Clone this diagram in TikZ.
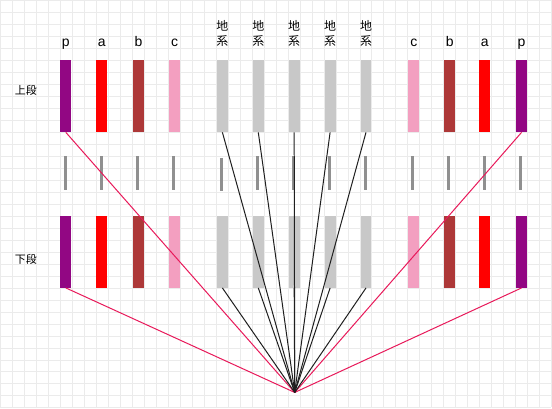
\documentclass[tikz,border=0pt]{standalone}
\usepackage{fontspec}
\setmainfont{Liberation Sans}
\newfontfamily\jp{Noto Sans CJK JP}
\definecolor{gridc}{HTML}{EBEBEB}
\definecolor{cP}{HTML}{920783}
\definecolor{cR}{HTML}{FF0000}
\definecolor{cB}{HTML}{AD3838}
\definecolor{cK}{HTML}{F39FC0}
\definecolor{cG}{HTML}{C8C8C8}
\definecolor{tickc}{HTML}{909090}
\definecolor{redl}{HTML}{E8195A}
\begin{document}
\begin{tikzpicture}[x=1pt,y=-1pt,
  bar/.style={rectangle, inner sep=0pt, minimum width=11pt, minimum height=72pt, draw=none},
  tickbar/.style={rectangle, inner sep=0pt, minimum width=3pt, minimum height=34pt, fill=tickc, draw=none},
  lbl/.style={inner sep=0pt, anchor=base, font=\fontsize{14}{16}\selectfont},
  jlbl/.style={inner sep=0pt, align=center, font=\jp\fontsize{12}{15}\selectfont},
  side/.style={inner sep=0pt, font=\jp\fontsize{11}{13}\selectfont},
  redline/.style={draw=redl, line width=1pt},
  blkline/.style={draw=black!88, line width=1pt}]
\fill[white] (0,0) rectangle (552,408);
\foreach \i in {0,...,46} \draw[gridc, line width=1pt] (12*\i+0.5,0) -- (12*\i+0.5,408);
\foreach \i in {0,...,34} \draw[gridc, line width=1pt] (0,12*\i+0.5) -- (552,12*\i+0.5);
\useasboundingbox (0,0) rectangle (552,408);
% bars
\foreach \n/\x/\c in {1/65.5/cP,2/101.5/cR,3/138.5/cB,4/174.5/cK,5/222.5/cG,6/258.5/cG,7/294.5/cG,8/330.5/cG,9/366.5/cG,10/414.5/cK,11/450.5/cB,12/485.5/cR,13/522.5/cP}{
  \node[bar, fill=\c] (u\n) at (\x,96) {};
  \node[bar, fill=\c] (l\n) at (\x,252) {};
}
% ticks
\foreach \n/\x/\y in {1/65.5/173,2/101.5/173,3/137.5/173,4/173.5/173,5/221.5/174.5,6/257.5/173,7/293.5/173,8/329.5/173,9/365.5/173,10/413.5/173,11/449.5/173,12/485.5/173,13/521.5/173}{
  \node[tickbar] (t\n) at (\x,\y) {};
}
\coordinate (apex) at (295,393);
% lines
\draw[redline] (u1.south) -- (apex);
\draw[redline] (l1.south) -- (apex);
\draw[redline] (u13.south) -- (apex);
\draw[redline] (l13.south) -- (apex);
\foreach \n in {5,...,9}{
  \draw[blkline] (u\n.south) -- (apex);
  \draw[blkline] (l\n.south) -- (apex);
}
% labels
\node[lbl] (tp1) at (65.5,46.5) {p};
\node[lbl] (ta1) at (101.5,46.5) {a};
\node[lbl] (tb1) at (138.5,46.5) {b};
\node[lbl] (tc1) at (174.5,46.5) {c};
\node[lbl] (tc2) at (414.5,46.5) {c};
\node[lbl] (tb2) at (450.5,46.5) {b};
\node[lbl] (ta2) at (485.5,46.5) {a};
\node[lbl] (tp2) at (522.5,46.5) {p};
\foreach \n/\x in {5/222.5,6/258.5,7/294.5,8/330.5,9/366.5}{
  \node[jlbl] (j\n) at (\x,33) {地\\系};
}
\node[side] (up) at (25.5,90) {上段};
\node[side] (lo) at (25.5,260) {下段};
\end{tikzpicture}
\end{document}
